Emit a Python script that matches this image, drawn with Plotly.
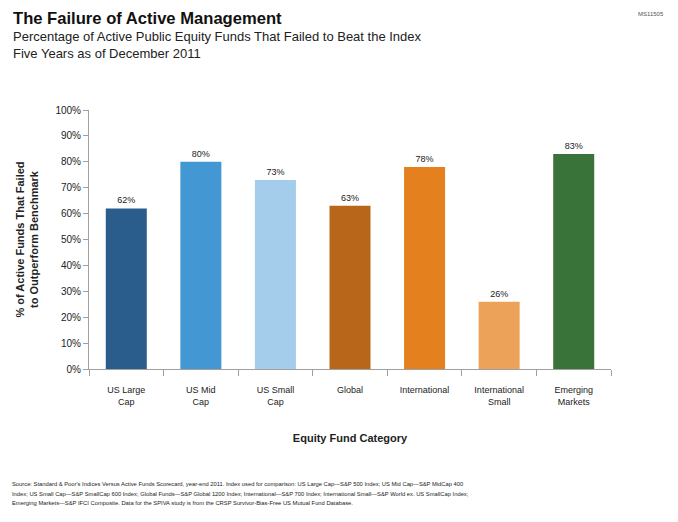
import plotly.graph_objects as go

categories = ["US Large<br>Cap", "US Mid<br>Cap", "US Small<br>Cap", "Global",
              "International", "International<br>Small", "Emerging<br>Markets"]
values = [62, 80, 73, 63, 78, 26, 83]
colors = ["#2A5D8C", "#4398D3", "#A3CDEA", "#B86619", "#E5801F", "#EDA25A", "#3A733A"]
ytick_vals = [0, 10, 20, 30, 40, 50, 60, 70, 80, 90, 100]
ytick_text = [f"{v}%" for v in ytick_vals]
label_text = [f"{v}%" for v in values]

FONT = "Liberation Sans, Arial, sans-serif"

# page has an 8px body margin; work in screen coords and shift
OFF = 8
W, H = 678 - 2 * OFF, 522 - 2 * OFF
l, r, t, b = 89 - OFF, W - (611 - OFF), 110 - OFF, H - (369 - OFF)
pw, ph = W - l - r, H - t - b


def px(x):
    return (x - OFF - l) / pw


def py(y):
    return (H - b - (y - OFF)) / ph


fig = go.Figure(go.Bar(
    x=categories, y=values, marker=dict(color=colors, line=dict(width=0)),
    text=label_text, textposition="outside", cliponaxis=False,
    textfont=dict(family=FONT, size=9, color="#222222"),
    width=0.55,
))

foot = [
    "Source: Standard &amp; Poor's Indices Versus Active Funds Scorecard, year-end 2011. Index used for comparison: US Large Cap—S&amp;P 500 Index; US Mid Cap—S&amp;P MidCap 400",
    "Index; US Small Cap—S&amp;P SmallCap 600 Index; Global Funds—S&amp;P Global 1200 Index; International—S&amp;P 700 Index; International Small—S&amp;P World ex. US SmallCap Index;",
    "Emerging Markets—S&amp;P IFCI Composite. Data for the SPIVA study is from the CRSP Survivor-Bias-Free US Mutual Fund Database.",
]
foot_y = [484, 493.5, 503]

annots = [
    dict(text="<b>The Failure of Active Management</b>", x=px(11), y=py(18),
         xanchor="left", yanchor="middle", font=dict(size=16.6, color="#111111")),
    dict(text="Percentage of Active Public Equity Funds That Failed to Beat the Index", x=px(11), y=py(37),
         xanchor="left", yanchor="middle", font=dict(size=13, color="#222222")),
    dict(text="Five Years as of December 2011", x=px(11), y=py(53),
         xanchor="left", yanchor="middle", font=dict(size=13, color="#222222")),
    dict(text="MS11505", x=px(666), y=py(OFF + 0.5), xanchor="right", yanchor="top",
         font=dict(size=6, color="#555555")),
]
for txt, yy in zip(foot, foot_y):
    annots.append(dict(text=txt, x=px(10), y=py(yy), xanchor="left", yanchor="middle",
                       align="left", font=dict(size=5.8, color="#222222")))
for a in annots:
    a.update(xref="paper", yref="paper", showarrow=False)

fig.update_layout(
    width=W, height=H,
    margin=dict(l=l, r=r, t=t, b=b),
    paper_bgcolor="white", plot_bgcolor="white",
    showlegend=False,
    font=dict(family=FONT, color="#222222"),
    xaxis=dict(
        showline=True, linecolor="#A0A0A0", linewidth=1,
        ticks="outside", tickson="boundaries", ticklen=6, tickcolor="#A0A0A0",
        ticklabelstandoff=12,
        tickfont=dict(size=9, color="#222222"), showgrid=False,
        title=dict(text="<b>Equity Fund Category</b>", font=dict(size=11), standoff=28),
    ),
    yaxis=dict(
        range=[0, 100], tickvals=ytick_vals, ticktext=ytick_text,
        showline=True, linecolor="#A0A0A0", linewidth=1,
        ticks="outside", ticklen=5, tickcolor="#A0A0A0",
        tickfont=dict(size=10, color="#222222"), showgrid=False, zeroline=False,
        title=dict(text="<b>% of Active Funds That Failed<br>to Outperform Benchmark</b>",
                   font=dict(size=11), standoff=14),
    ),
    annotations=annots,
)

fig.write_html("out.html")
